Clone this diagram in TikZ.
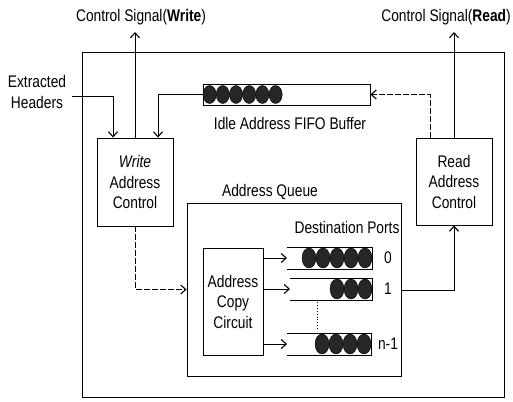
\documentclass[tikz,border=0pt]{standalone}
\usepackage{fontspec}
\setmainfont{Liberation Sans}[FakeStretch=0.82]
\usetikzlibrary{arrows.meta}
\tikzset{
  lbl/.style={font=\fontsize{16.8}{20.5}\selectfont, inner sep=1pt, align=center},
  blk/.style={draw, line width=0.9pt, minimum width=#1, inner sep=0pt},
  conn/.style={line width=0.9pt, -{Straight Barb[length=5pt,width=9pt,line width=1.1pt]}},
  plain/.style={line width=0.9pt},
  dconn/.style={conn, dash pattern=on 6pt off 2pt},
  dot/.style={fill=black!85, draw=black, line width=0.4pt},
}
\begin{document}
\begin{tikzpicture}[x=1pt,y=-1pt]
\useasboundingbox (0,0) rectangle (513,401);
% outer frame
\node[draw, line width=0.9pt, minimum width=422pt, minimum height=345pt, inner sep=0pt] (outer) at (293,224.5) {};
% address queue
\node[draw, line width=0.9pt, minimum width=214pt, minimum height=173pt, inner sep=0pt] (queue) at (294,289.5) {};
\node[lbl] (qlabel) at (270,192) {Address Queue};
% write address control
\node[blk=76pt, minimum height=88pt, lbl, inner sep=0pt, line width=0.9pt] (write) at (135,182) {\textit{Write}\\Address\\Control};
% read address control
\node[blk=76pt, minimum height=87pt, lbl, inner sep=0pt, line width=0.9pt] (read) at (454,181.5) {Read\\Address\\Control};
% address copy circuit
\node[blk=60pt, minimum height=107pt, lbl, inner sep=0pt, line width=0.9pt] (copy) at (233,301.5) {Address\\Copy\\Circuit};
% FIFO buffer
\node[draw, line width=0.9pt, minimum width=167pt, minimum height=21pt, inner sep=0pt] (fifo) at (286.5,94.5) {};
\foreach \cx in {209.6,222.8,236,249.2,262.4,275.6}
  \fill[dot] (\cx,94.5) ellipse [x radius=6.6pt, y radius=9pt];
\node[lbl] (fifolabel) at (290,123) {Idle Address FIFO Buffer};
% ports (open on the left)
\coordinate (p0) at (287,258);
\coordinate (p1) at (290,289);
\coordinate (pn) at (287,344);
\draw[plain] (287,247) -- (372,247) -- (372,269) -- (287,269);
\draw[plain] (290,278) -- (372,278) -- (372,300) -- (290,300);
\draw[plain] (287,333) -- (371,333) -- (371,355) -- (287,355);
\foreach \cx in {365,351,337,323,309}
  \fill[dot] (\cx,258) ellipse [x radius=7pt, y radius=10pt];
\foreach \cx in {365,351,337}
  \fill[dot] (\cx,289) ellipse [x radius=7pt, y radius=10pt];
\foreach \cx in {364,350,336,322}
  \fill[dot] (\cx,344) ellipse [x radius=7pt, y radius=10pt];
\node[lbl] (dest) at (347,227) {Destination Ports};
\node[lbl] (l0) at (388,258) {0};
\node[lbl] (l1) at (388,289) {1};
\node[lbl] (ln) at (388,344) {n-1};
\draw[line width=0.9pt, dotted] (317,302) -- (317,330);
% control signals
\node[lbl] (cw) at (141,17) {Control Signal(\textbf{Write})};
\node[lbl] (cr) at (446,17) {Control Signal(\textbf{Read})};
\coordinate (cwtip) at (135,32);
\coordinate (crtip) at (454,32);
\draw[conn] (write.north) -- (cwtip);
\draw[conn] (read.north) -- (crtip);
% extracted headers
\node[lbl] (hdr) at (37,92) {Extracted\\Headers};
\coordinate (hdrout) at (72,96);
\draw[conn] (hdrout) -| ([xshift=-22pt]write.north);
% FIFO to write
\draw[conn] (fifo.west) -| ([xshift=23pt]write.north);
% read to FIFO
\draw[dconn] ([xshift=-24pt]read.north) |- (fifo.east);
% write to queue
\draw[dconn] (write.south) |- (queue.west);
% copy circuit to ports
\draw[conn] (copy.east |- p0) -- (p0);
\draw[conn] (copy.east |- p1) -- (p1);
\draw[conn] (copy.east |- pn) -- (pn);
% queue to read
\coordinate (qout) at (401,290);
\draw[conn] (qout) -| (read.south);
\end{tikzpicture}
\end{document}
